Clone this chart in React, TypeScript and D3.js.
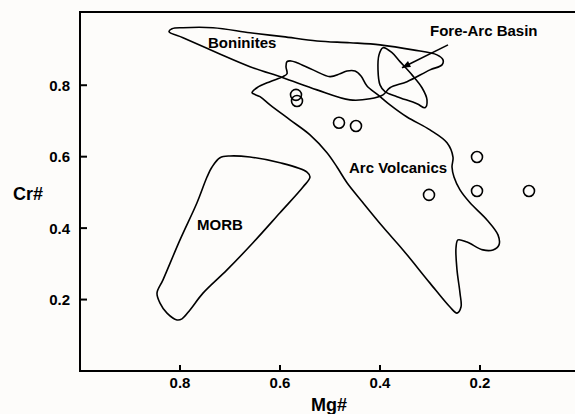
import React from "react";
import * as d3 from "d3";

// field outlines, [Mg#, Cr#]
const morb: [number, number][] = [
  [0.736, 0.571], [0.72, 0.597], [0.7, 0.602], [0.66, 0.599], [0.6, 0.583], [0.546, 0.557],
  [0.54, 0.543], [0.554, 0.515], [0.6, 0.443], [0.654, 0.359], [0.706, 0.283], [0.754, 0.218],
  [0.78, 0.171], [0.796, 0.146], [0.806, 0.143], [0.826, 0.162], [0.84, 0.19], [0.846, 0.218],
  [0.834, 0.255], [0.8, 0.367], [0.766, 0.471], [0.746, 0.543],
];

const boninites: [number, number][] = [
  [0.822, 0.95], [0.816, 0.958], [0.794, 0.961], [0.734, 0.961], [0.66, 0.947], [0.594, 0.936],
  [0.526, 0.924], [0.46, 0.919], [0.4, 0.913], [0.334, 0.899], [0.286, 0.885], [0.274, 0.871],
  [0.276, 0.857], [0.3, 0.843], [0.346, 0.81], [0.38, 0.793], [0.394, 0.773], [0.42, 0.762],
  [0.46, 0.759], [0.526, 0.787], [0.594, 0.821], [0.66, 0.852], [0.726, 0.891], [0.794, 0.933],
];

const arcVolcanics: [number, number][] = [
  [0.656, 0.779], [0.646, 0.793], [0.62, 0.81], [0.594, 0.824], [0.586, 0.832], [0.588, 0.852],
  [0.586, 0.866], [0.578, 0.868], [0.566, 0.863], [0.534, 0.843], [0.5, 0.824], [0.48, 0.832],
  [0.466, 0.84], [0.45, 0.84], [0.438, 0.826], [0.426, 0.798], [0.404, 0.773], [0.38, 0.745],
  [0.346, 0.711], [0.3, 0.675], [0.266, 0.639], [0.254, 0.599], [0.256, 0.571], [0.252, 0.543],
  [0.24, 0.507], [0.22, 0.471], [0.186, 0.423], [0.164, 0.381], [0.162, 0.353], [0.174, 0.339],
  [0.194, 0.339], [0.226, 0.361], [0.244, 0.367], [0.248, 0.345], [0.246, 0.283], [0.24, 0.218],
  [0.238, 0.179], [0.246, 0.162], [0.26, 0.179], [0.3, 0.246], [0.354, 0.339], [0.394, 0.403],
  [0.434, 0.471], [0.466, 0.527], [0.486, 0.571], [0.506, 0.611], [0.54, 0.661], [0.58, 0.703],
  [0.62, 0.745], [0.64, 0.768],
];

const foreArcBasin: [number, number][] = [
  [0.394, 0.905], [0.376, 0.891], [0.36, 0.866], [0.336, 0.829], [0.316, 0.793], [0.306, 0.759],
  [0.31, 0.737], [0.326, 0.748], [0.366, 0.768], [0.39, 0.782], [0.4, 0.801], [0.404, 0.843],
  [0.402, 0.885],
];

// samples
const sampleMg = [0.568, 0.566, 0.482, 0.448, 0.206, 0.302, 0.206, 0.102];
const sampleCr = [0.773, 0.756, 0.695, 0.686, 0.599, 0.493, 0.504, 0.504];

const xTicks = [0.8, 0.6, 0.4, 0.2];
const yTicks = [0.2, 0.4, 0.6, 0.8];

const labels = [
  { text: "Boninites", mg: 0.744, cr: 0.905 },
  { text: "Fore-Arc Basin", mg: 0.3, cr: 0.938 },
  { text: "Arc Volcanics", mg: 0.462, cr: 0.555 },
  { text: "MORB", mg: 0.766, cr: 0.395 },
];

const arrowFrom: [number, number] = [0.264, 0.913];
const arrowTo: [number, number] = [0.356, 0.849];

const font = "'Liberation Sans', Arial, sans-serif";

const App = () => {
  const width = 575;
  const height = 414;

  const x = d3.scaleLinear().domain([1, 0.012]).range([80, 574]);
  const y = d3.scaleLinear().domain([0, 1.005]).range([371, 12]);

  const outline = d3.line<[number, number]>()
    .x(d => x(d[0]))
    .y(d => y(d[1]))
    .curve(d3.curveCatmullRomClosed.alpha(0.5));

  const fields = [morb, boninites, arcVolcanics, foreArcBasin];

  const ax = x(arrowTo[0]), ay = y(arrowTo[1]);
  const angle = Math.atan2(ay - y(arrowFrom[1]), ax - x(arrowFrom[0]));
  const head = 9, spread = 0.38;
  const headPts = [
    [ax, ay],
    [ax - head * Math.cos(angle - spread), ay - head * Math.sin(angle - spread)],
    [ax - head * Math.cos(angle + spread), ay - head * Math.sin(angle + spread)],
  ].map(p => p.join(",")).join(" ");

  const left = x(1), right = width, top = y(1.005), bottom = y(0);

  return (
    <svg width={width} height={height}
      style={{ position: "absolute", left: 0, top: 0, background: "#fdfcfa" }}
      fontFamily={font} fontWeight="bold">
      {/* frame */}
      <line x1={left} x2={right} y1={top} y2={top} stroke="black" strokeWidth="2" />
      <line x1={left} x2={right} y1={bottom} y2={bottom} stroke="black" strokeWidth="2" />
      <line x1={left} x2={left} y1={top - 1} y2={bottom + 1} stroke="black" strokeWidth="2" />

      {xTicks.map((d, i) =>
        <g key={i} transform={`translate(${x(d)}, ${bottom})`}>
          <line y2={-6} stroke="black" strokeWidth="2" />
          <text y={17} textAnchor="middle" fontSize="15">{d.toFixed(1)}</text>
        </g>)}
      {yTicks.map((d, i) =>
        <g key={i} transform={`translate(${left}, ${y(d)})`}>
          <line x2={7} stroke="black" strokeWidth="2" />
          <text x={-10} y={5.5} textAnchor="end" fontSize="15">{d.toFixed(1)}</text>
        </g>)}

      <text x={28} y={200} textAnchor="middle" fontSize="18">Cr#</text>
      <text x={329} y={411} textAnchor="middle" fontSize="18">Mg#</text>

      {fields.map((f, i) =>
        <path key={i} d={outline(f) ?? ""} fill="none" stroke="black" strokeWidth="1.6" />)}

      {sampleMg.map((d, i) =>
        <circle key={i} cx={x(d)} cy={y(sampleCr[i])} r={5.5} fill="none" stroke="black" strokeWidth="1.6" />)}

      {labels.map((l, i) =>
        <text key={i} x={x(l.mg)} y={y(l.cr)} fontSize="15">{l.text}</text>)}

      <line x1={x(arrowFrom[0])} y1={y(arrowFrom[1])} x2={ax} y2={ay} stroke="black" strokeWidth="1.6" />
      <polygon points={headPts} fill="black" />
    </svg>
  );
};

export default App;
